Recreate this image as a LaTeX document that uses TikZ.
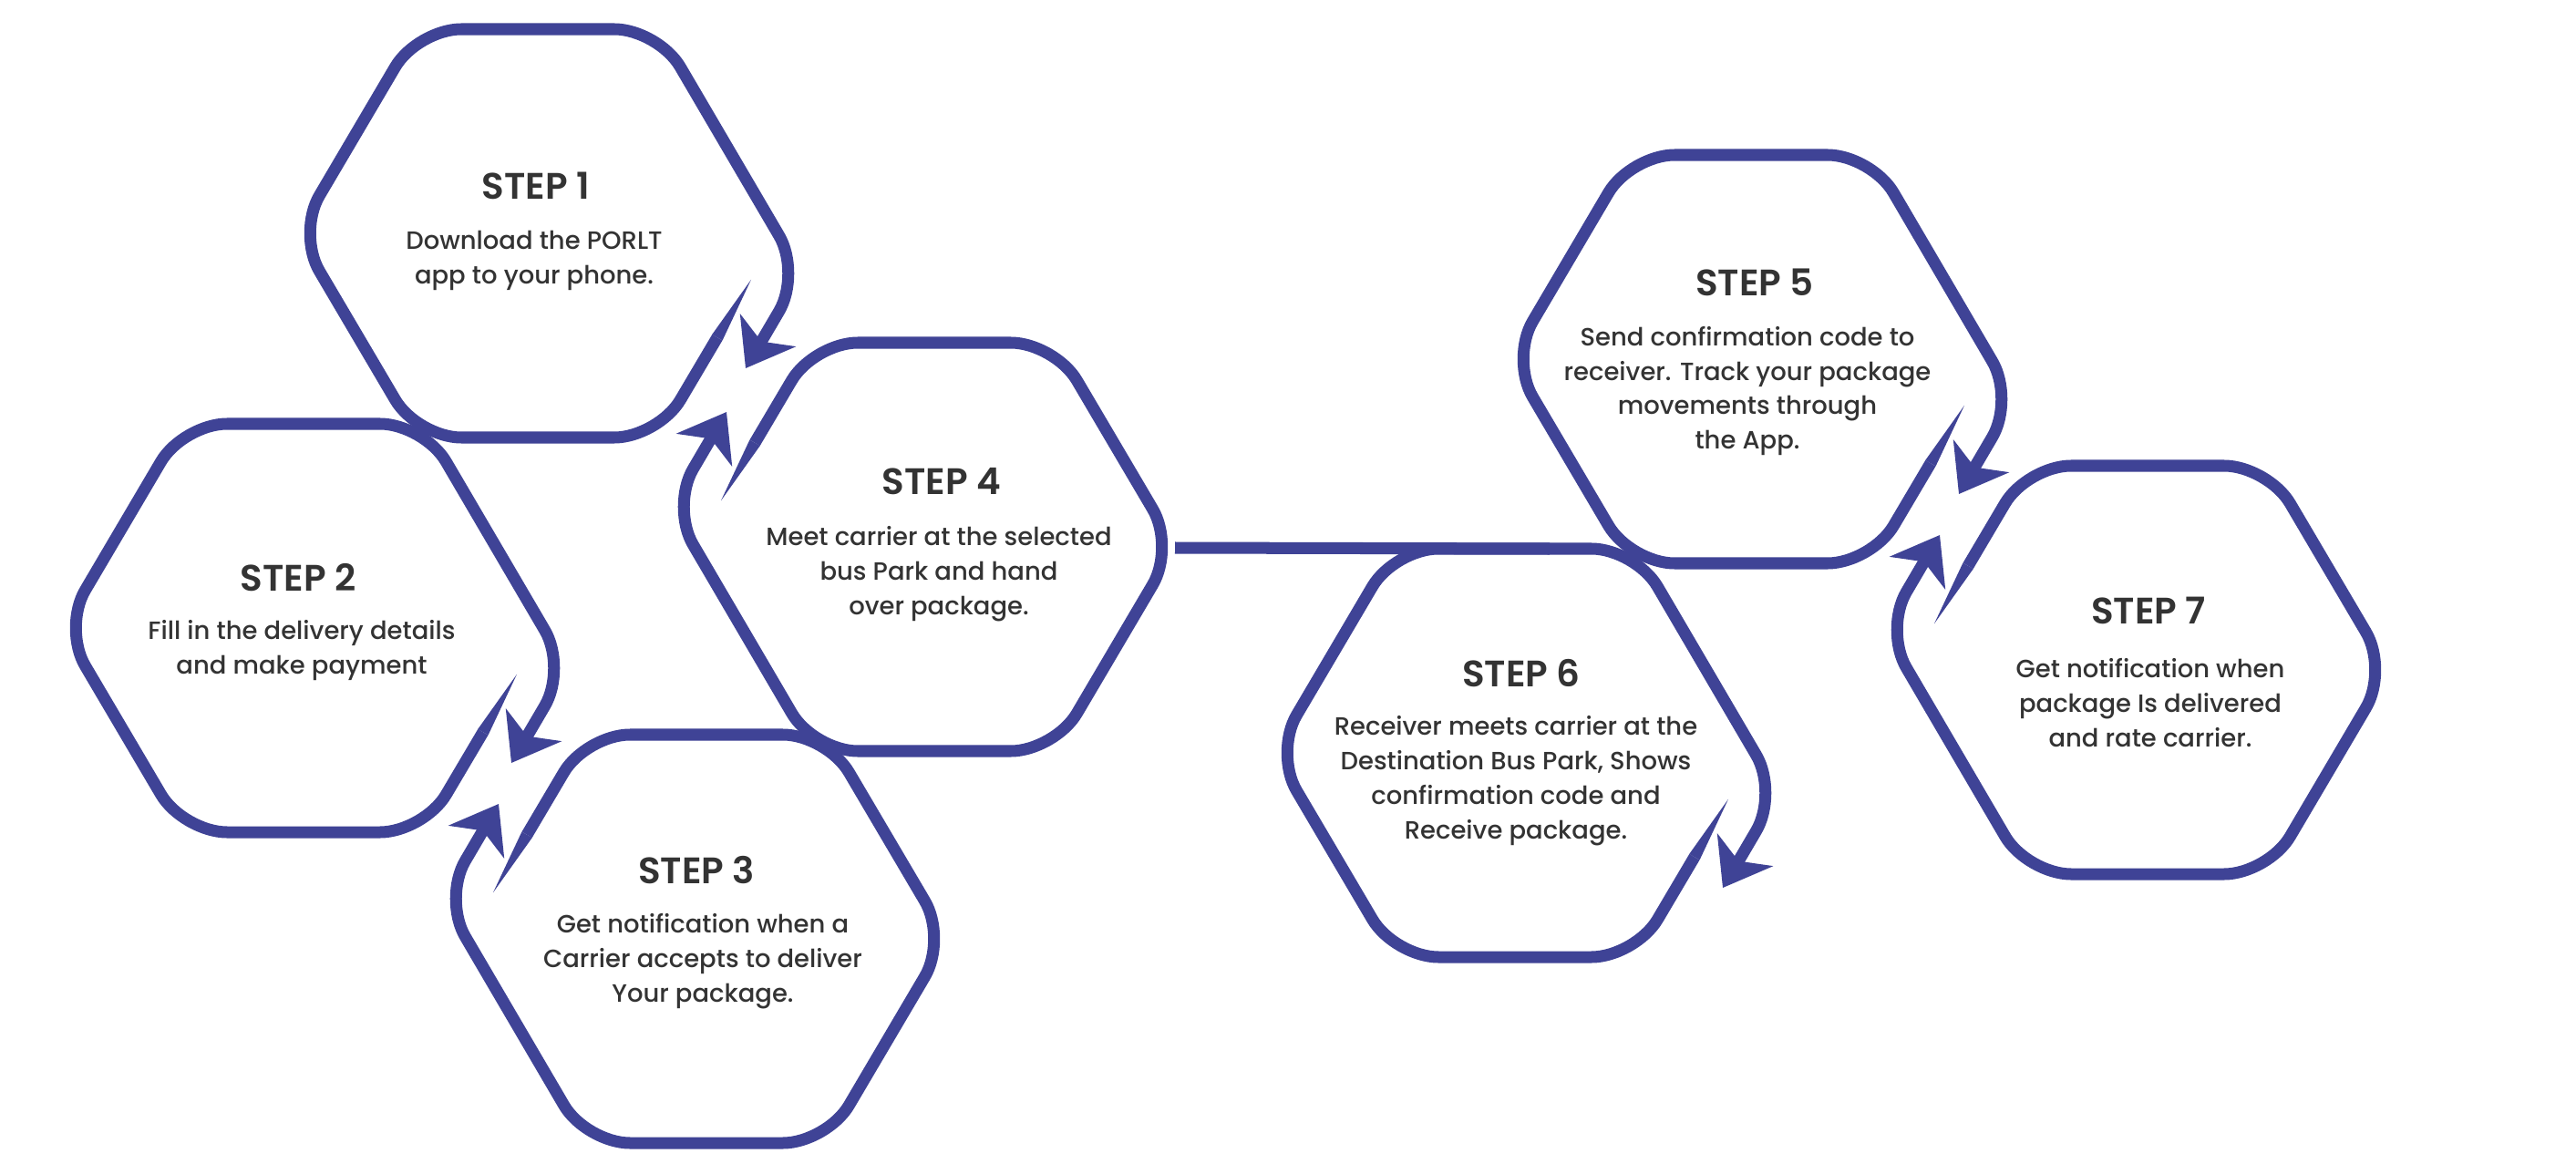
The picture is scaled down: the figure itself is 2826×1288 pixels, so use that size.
\documentclass[tikz,border=0pt]{standalone}
\usepackage{fontspec}
\setmainfont{Poppins}
\newfontfamily\headfont{Poppins SemiBold}
\newfontfamily\bodyfont{Poppins Medium}
\usetikzlibrary{arrows.meta}
\definecolor{hexblue}{HTML}{3F4396}
\definecolor{txtgray}{HTML}{333333}
\tikzset{
  hexline/.style={draw=hexblue, line width=0.13cm, rounded corners=0.48cm, line join=round},
  hexarrow/.style={-{Stealth[length=0.48cm,width=0.70cm,inset=0.14cm]}},
  linkline/.style={draw=hexblue, line width=0.13cm},
  head/.style={text=txtgray, font=\fontsize{11.5}{13}\headfont, inner sep=0pt},
  body/.style={text=txtgray, font=\fontsize{7.8}{10.8}\bodyfont, align=center, inner sep=0pt},
}
\newcommand{\stephex}[2]{%
  \begin{scope}[shift={#1}, rotate=#2]
    \fill[hexblue] (234.0,50.8) -- (202.6,117.4) -- (191.2,111.0) -- cycle;
    \draw[hexline, hexarrow] (196.9,114.2) -- (132,224) -- (-132,224) -- (-264,0)
      -- (-132,-224) -- (132,-224) -- (289,44) -- (228,148);
  \end{scope}}
\begin{document}
\begin{tikzpicture}[x=0.01cm, y=-0.01cm]
\fill[white] (0,0) rectangle (2826,1288);
\useasboundingbox (0,0) rectangle (2826,1288);

\stephex{(590,256)}{0}
\stephex{(333,689)}{0}
\stephex{(775,1030)}{180}
\stephex{(1025,600)}{180}
\stephex{(1921,394)}{0}
\stephex{(1662,826)}{0}
\stephex{(2356,735)}{180}

\coordinate (h4r) at (1289,601);
\coordinate (h6t) at (1700,602);
\draw[linkline] (h4r) -- (h6t);

\node[head] (s1) at (588,204) {STEP 1};
\node[body] (b1) at (586,286) {Download the PORLT\\app to your phone.};
\node[head] (s2) at (327,634) {STEP 2};
\node[body] (b2) at (331,714) {Fill in the delivery details\\and make payment};
\node[head] (s3) at (764,955) {STEP 3};
\node[body] (b3) at (771,1055) {Get notification when a\\Carrier accepts to deliver\\Your package.};
\node[head] (s4) at (1033,528) {STEP 4};
\node[body] (b4) at (1030,630) {Meet carrier at the selected\\bus Park and hand\\over package.};
\node[head] (s5) at (1925,310) {STEP 5};
\node[body] (b5) at (1917,429) {Send confirmation code to\\receiver. Track your package\\movements through\\the App.};
\node[head] (s6) at (1669,739) {STEP 6};
\node[body] (b6) at (1663,857) {Receiver meets carrier at the\\Destination Bus Park, Shows\\confirmation code and\\Receive package.};
\node[head] (s7) at (2357,670) {STEP 7};
\node[body] (b7) at (2359,771) {Get notification when\\package Is delivered\\and rate carrier.};
\end{tikzpicture}
\end{document}
